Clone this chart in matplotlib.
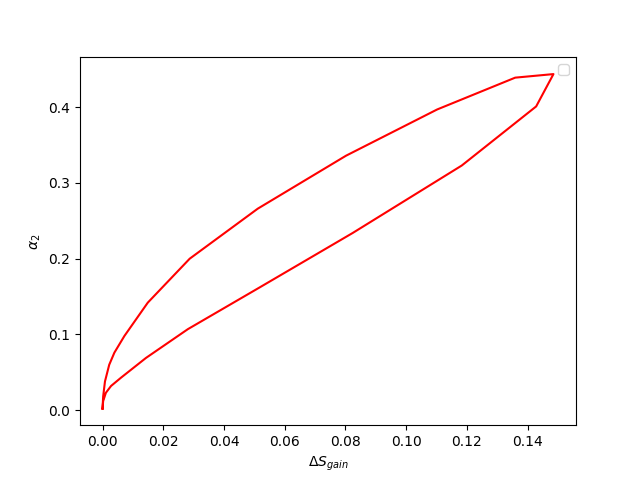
import numpy as np
import matplotlib.pyplot as plt

# loop: upper branch out from the origin, lower branch back
delta_s = [0.0, 0.0002, 0.0008, 0.0022, 0.0039, 0.0072, 0.0149, 0.0287, 0.0511, 0.0802,
           0.1102, 0.1359, 0.1485,
           0.1428, 0.1183, 0.0824, 0.0517, 0.0281, 0.0143, 0.0061, 0.0028, 0.0011,
           0.0002, 0.0]
alpha2 = [0.002, 0.018, 0.038, 0.060, 0.076, 0.098, 0.142, 0.200, 0.266, 0.336,
          0.397, 0.439, 0.4437,
          0.401, 0.323, 0.234, 0.162, 0.107, 0.069, 0.043, 0.032, 0.023,
          0.012, 0.002]

fig = plt.figure(figsize=(6.4, 4.78), dpi=100)
plt.plot(delta_s, alpha2, color='r')
plt.xlabel(r'$\Delta S_{gain}$')
plt.ylabel(r'$\alpha_2$')
plt.legend(handles=[], loc='upper right')
plt.savefig("out.png")
